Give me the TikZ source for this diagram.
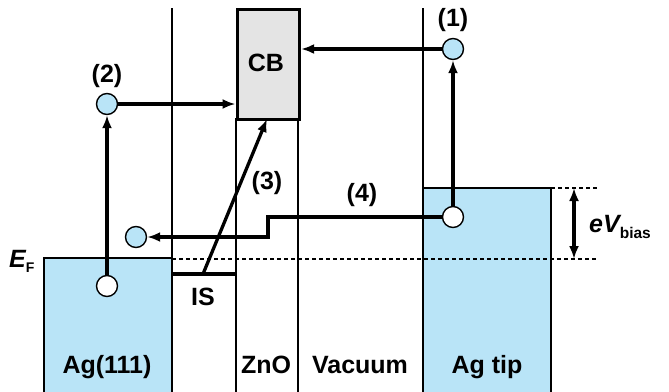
\documentclass[tikz,border=0pt]{standalone}
\usepackage{fontspec}
\setmainfont{Liberation Sans}
\usetikzlibrary{arrows.meta}
\definecolor{lblue}{RGB}{185,228,247}
\definecolor{cbgray}{RGB}{228,228,228}
\tikzset{
  thinline/.style={line width=1.3pt},
  tip/.tip={Latex[length=13pt,width=10pt]},
  thickarr/.style={line width=3.3pt,-tip},
  elec/.style={circle,draw,line width=1.4pt,fill=lblue,minimum size=21pt,inner sep=0pt},
  hole/.style={circle,draw,line width=1.4pt,fill=white,minimum size=21pt,inner sep=0pt},
  lbl/.style={font=\fontsize{25}{28}\selectfont\bfseries,inner sep=0pt},
  dashline/.style={line width=1.2pt,dash pattern=on 3.5pt off 3.5pt},
}
\begin{document}
\begin{tikzpicture}[x=1pt,y=-1pt]
\useasboundingbox (0,0) rectangle (669,391);
% metal boxes
\draw[thinline,fill=lblue] (44,394) -- (44,258) -- (172,258) -- (172,394);
\draw[thinline,fill=lblue] (423,394) -- (423,188) -- (551,188) -- (551,394);
% vertical separators
\draw[thinline] (172,8) -- (172,394);
\draw[thinline] (236,118) -- (236,394);
\draw[thinline] (298,118) -- (298,394);
\draw[thinline] (423,8) -- (423,188);
% CB box
\node[draw,line width=3.6pt,fill=cbgray,minimum width=62pt,minimum height=110pt,inner sep=0pt,anchor=north west] (cb) at (235.5,7.5) {};
\node[lbl] (cbt) at (266,63) {CB};
% Fermi level and tip level
\draw[dashline] (172,259) -- (597,259);
\draw[dashline] (551,188) -- (597,188);
\coordinate (ef1) at (574,259);
\coordinate (ef2) at (574,188);
% IS level
\draw[line width=3.3pt] (172,274) -- (236,274);
\coordinate (isp) at (203,274);
% circles
\node[elec] (c2) at (107,104) {};
\node[elec] (c1) at (453,49) {};
\node[hole] (hAg) at (107,286) {};
\node[hole] (hTip) at (453,217) {};
\node[elec] (e4) at (136,237) {};
% arrows
\draw[thickarr] (hAg) -- (c2);
\draw[thickarr] (c2) -- (c2 -| cb.west);
\draw[thickarr] (hTip) -- (c1);
\draw[thickarr] (c1) -- (c1 -| cb.east);
\coordinate (cbb) at (267,119);
\draw[thickarr] (isp) -- (cbb);
\coordinate (k1) at (268,217);
\coordinate (k2) at (268,237);
\draw[thickarr] (hTip) -- (k1) -- (k2) -- (e4);
\draw[line width=3.3pt,tip-tip] (ef1) -- (ef2);
% labels
\node[lbl] (l1) at (453,20) {(1)};
\node[lbl] (l2) at (107,76) {(2)};
\node[lbl] (l3) at (267,183) {(3)};
\node[lbl] (l4) at (362,195) {(4)};
\node[lbl,anchor=base] (ag) at (107,373) {Ag(111)};
\node[lbl,anchor=base] (zno) at (266,373) {ZnO};
\node[lbl,anchor=base] (vac) at (360,373) {Vacuum};
\node[lbl,anchor=base] (tip) at (487,373) {Ag tip};
\node[lbl,anchor=base] (is) at (203,305) {IS};
\node[lbl,anchor=base west] (ef) at (9,267) {\itshape E\fontsize{14}{15}\selectfont\upshape\raisebox{-5pt}{F}};
\node[lbl,anchor=base west] (ev) at (589,232) {\itshape eV\fontsize{15.5}{16}\selectfont\upshape\raisebox{-6pt}{bias}};
\end{tikzpicture}
\end{document}
